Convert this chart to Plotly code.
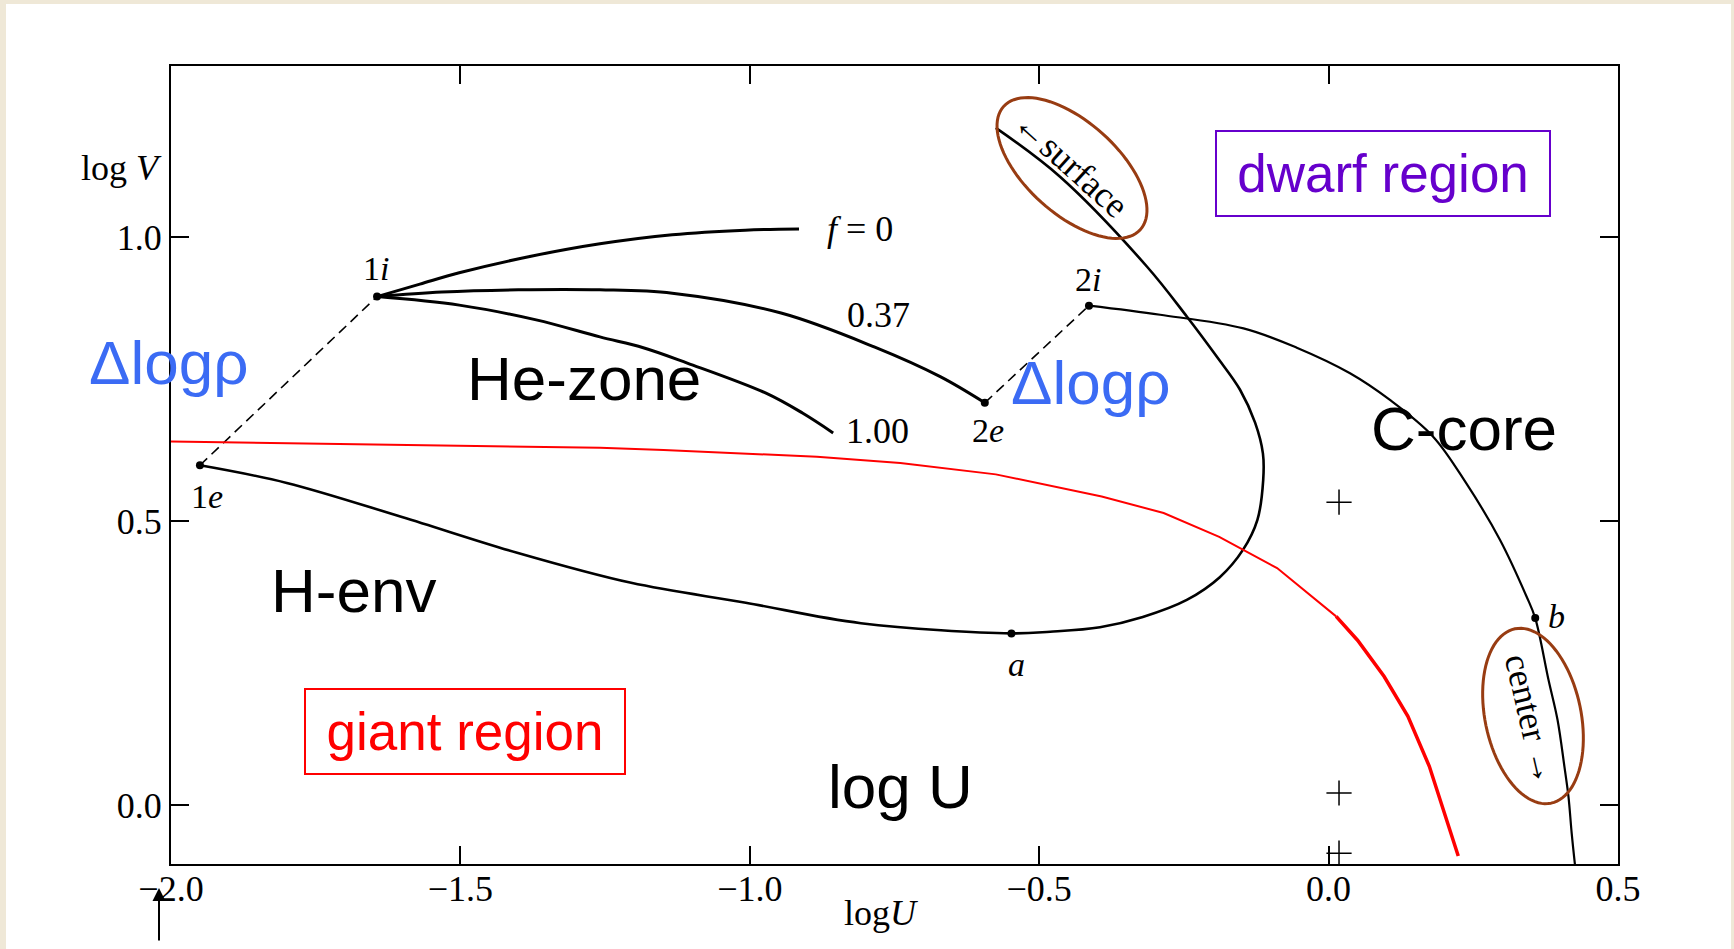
import math
import plotly.graph_objects as go

# ---- curves in the (log U, log V) plane ----
# f = 0 branch leaving the interface point 1i
f0_u = [-1.644, -1.570, -1.502, -1.378, -1.259, -1.134, -1.008, -0.915]
f0_v = [0.895, 0.917, 0.937, 0.966, 0.988, 1.004, 1.012, 1.014]

# f = 0.37 branch, 1i -> 2e
f37_u = [-1.644, -1.532, -1.400, -1.259, -1.134, -0.946, -0.784, -0.671, -0.594]
f37_v = [0.895, 0.903, 0.907, 0.907, 0.901, 0.866, 0.806, 0.754, 0.708]

# f = 1.00 branch
f100_u = [-1.644, -1.502, -1.369, -1.259, -1.184, -1.108, -0.972, -0.909, -0.856]
f100_v = [0.895, 0.880, 0.854, 0.824, 0.805, 0.778, 0.725, 0.690, 0.655]

# hydrogen envelope solution: 1e -> a -> loop -> surface
env_u = [-1.950, -1.800, -1.601, -1.402, -1.205, -1.007, -0.808, -0.548,
         -0.481, -0.395, -0.321, -0.245, -0.188, -0.148, -0.123, -0.113,
         -0.1135, -0.127, -0.153, -0.193, -0.245, -0.314, -0.464, -0.575]
env_v = [0.598, 0.567, 0.507, 0.444, 0.391, 0.356, 0.320, 0.302,
         0.305, 0.313, 0.331, 0.361, 0.401, 0.449, 0.502, 0.572,
         0.619, 0.673, 0.731, 0.789, 0.860, 0.948, 1.106, 1.192]

# carbon core solution: 2i -> b -> center
core_u = [-0.414, -0.291, -0.147, -0.055, 0.037, 0.106, 0.181, 0.238,
          0.296, 0.342, 0.357, 0.380, 0.3955, 0.4075, 0.4144, 0.420, 0.4257]
core_v = [0.879, 0.863, 0.839, 0.805, 0.760, 0.713, 0.648, 0.566,
          0.467, 0.367, 0.329, 0.220, 0.150, 0.067, 0.015, -0.050, -0.106]

# density jumps at the interfaces (dashed)
jump1_u = [-1.950, -1.644]
jump1_v = [0.598, 0.895]
jump2_u = [-0.594, -0.414]
jump2_v = [0.708, 0.879]

# giant / dwarf dividing line
red_hi_u = [-2.021, -1.259, -1.149, -0.884, -0.740, -0.575, -0.392, -0.285,
            -0.189, -0.089, 0.013]
red_hi_v = [0.640, 0.629, 0.625, 0.613, 0.602, 0.582, 0.543, 0.514,
            0.472, 0.417, 0.332]
red_lo_u = [0.013, 0.050, 0.096, 0.137, 0.174, 0.201, 0.224]
red_lo_v = [0.332, 0.290, 0.226, 0.156, 0.068, -0.015, -0.090]

# labelled points
pt_names = ["1i", "1e", "2e", "2i", "a", "b"]
pt_u = [-1.644, -1.950, -0.594, -0.414, -0.548, 0.357]
pt_v = [0.895, 0.598, 0.708, 0.879, 0.302, 0.329]

# small print crosses along log U = 0
cross_u = [0.018, 0.018, 0.018]
cross_v = [0.533, 0.021, -0.085]

x_ticks = [-2.0, -1.5, -1.0, -0.5, 0.0, 0.5]
y_ticks = [0.0, 0.5, 1.0]

# ---- page geometry ----
W, H = 1734, 949
PL, PR, PT, PB = 171, 1618, 66, 864


def paper(X, Y):
    return (X - PL) / (PR - PL), (PB - Y) / (PB - PT)


def ellipse_path(cx, cy, a, b, deg, n=96):
    t = math.radians(deg)
    parts = []
    for k in range(n + 1):
        th = 2 * math.pi * k / n
        x = cx + a * math.cos(th) * math.cos(t) - b * math.sin(th) * math.sin(t)
        y = cy + a * math.cos(th) * math.sin(t) + b * math.sin(th) * math.cos(t)
        xp, yp = paper(x, y)
        parts.append(("M" if k == 0 else "L") + f"{xp:.5f},{yp:.5f}")
    return " ".join(parts) + " Z"


SERIF = "Liberation Serif"
SANS = "Liberation Sans, Arial"
BROWN = "#983C12"
BLUE = "#3B6BF4"
PURPLE = "#6600CC"

fig = go.Figure()

thick = dict(color="black", width=3)
thin = dict(color="black", width=2.2)
for u, v, ln in [(f0_u, f0_v, thick), (f37_u, f37_v, thick), (f100_u, f100_v, thick),
                 (env_u, env_v, dict(color="black", width=2.6)), (core_u, core_v, thin)]:
    fig.add_trace(go.Scatter(x=u, y=v, mode="lines", line=dict(shape="spline", smoothing=1.0, **ln),
                             hoverinfo="skip", showlegend=False))

for u, v in [(jump1_u, jump1_v), (jump2_u, jump2_v)]:
    fig.add_trace(go.Scatter(x=u, y=v, mode="lines",
                             line=dict(color="black", width=1.6, dash="10px,6px"),
                             hoverinfo="skip", showlegend=False))

fig.add_trace(go.Scatter(x=red_hi_u, y=red_hi_v, mode="lines", line=dict(color="red", width=2),
                         hoverinfo="skip", showlegend=False))
fig.add_trace(go.Scatter(x=red_lo_u, y=red_lo_v, mode="lines", line=dict(color="red", width=3.5),
                         hoverinfo="skip", showlegend=False))

fig.add_trace(go.Scatter(x=pt_u, y=pt_v, mode="markers", marker=dict(color="black", size=8),
                         text=pt_names, hoverinfo="text", showlegend=False))
fig.add_trace(go.Scatter(x=cross_u, y=cross_v, mode="markers",
                         marker=dict(symbol="cross-thin", size=18, line=dict(color="black", width=1.5)),
                         hoverinfo="skip", showlegend=False))

# ---- text ----
ann = []


def label(X, Y, text, size, color="black", family=SERIF, angle=0, **kw):
    xp, yp = paper(X, Y)
    ann.append(dict(x=xp, y=yp, xref="paper", yref="paper", text=text, showarrow=False,
                    xanchor="center", yanchor="middle", textangle=angle,
                    font=dict(family=family, size=size, color=color), **kw))


# point and curve labels
label(376, 268, "1<i>i</i>", 34)
label(207, 496, "1<i>e</i>", 34)
label(988, 431, "2<i>e</i>", 34)
label(1088, 279, "2<i>i</i>", 34)
label(1016, 664, "<i>a</i>", 34)
label(1556, 616, "<i>b</i>", 34)
label(860, 229, "<i>f</i> = 0", 36)
label(878, 315, "0.37", 36)
label(877, 431, "1.00", 36)
label(1071, 164, "\u2190surface", 36, angle=42)
label(1531, 719, "center \u2192", 36, angle=77)

# axis titles
label(121, 168, "log <i>V</i>", 36)
label(881, 913, "log<i>U</i>", 36)

# region labels
label(168, 362, "\u0394log\u03c1", 62, color=BLUE, family=SANS)
label(1090, 383, "\u0394log\u03c1", 62, color=BLUE, family=SANS)
label(584, 379, "He-zone", 62, family=SANS)
label(1464, 428, "C-core", 62, family=SANS)
label(353, 590, "H-env", 62, family=SANS)
label(901, 786, "log U", 62, family=SANS)

gx, gy = paper(465, 731.5)
ann.append(dict(x=gx, y=gy, xref="paper", yref="paper", text="giant region", showarrow=False,
                xanchor="center", yanchor="middle", width=318, height=83, borderpad=0,
                bordercolor="red", borderwidth=2, align="center", valign="middle",
                font=dict(family=SANS, size=53, color="red")))
dx, dy = paper(1383, 173.5)
ann.append(dict(x=dx, y=dy, xref="paper", yref="paper", text="dwarf region", showarrow=False,
                xanchor="center", yanchor="middle", width=332, height=83, borderpad=0,
                bordercolor=PURPLE, borderwidth=2, align="center", valign="middle",
                font=dict(family=SANS, size=53, color=PURPLE)))

# arrow under the log U axis origin
ann.append(dict(x=-2.0, y=0, xref="x", yref="paper", text="", showarrow=True,
                arrowhead=2, arrowsize=1.3, arrowwidth=2, arrowcolor="black",
                ax=0, ay=54, xshift=-12, yshift=-24))

# ---- shapes: page background and highlight ellipses ----
x0, y0 = paper(6, 949 + 20)
x1, y1 = paper(1731, 4)
shapes = [
    dict(type="rect", xref="paper", yref="paper", x0=x0, y0=y0, x1=x1, y1=y1,
         fillcolor="white", line=dict(width=0), layer="below"),
    dict(type="path", xref="paper", yref="paper", path=ellipse_path(1072, 168, 92, 46, 42),
         line=dict(color=BROWN, width=3)),
    dict(type="path", xref="paper", yref="paper", path=ellipse_path(1533, 716, 89, 48, 78.3),
         line=dict(color=BROWN, width=3)),
]

axis_common = dict(showline=True, linecolor="black", linewidth=2, mirror="ticks",
                   ticks="inside", ticklen=18, tickwidth=1.6, tickcolor="black",
                   showgrid=False, zeroline=False, tickformat=".1f",
                   tickfont=dict(family=SERIF, size=36, color="black"))

fig.update_layout(
    width=W, height=H,
    margin=dict(l=PL, r=W - PR, t=PT, b=H - PB, autoexpand=False),
    paper_bgcolor="#EFE8D7",
    plot_bgcolor="white",
    xaxis=dict(range=[-2.0, 0.5], tickvals=x_ticks, ticklabelstandoff=-8, **axis_common),
    yaxis=dict(range=[-0.104, 1.301], tickvals=y_ticks, **axis_common),
    annotations=ann,
    shapes=shapes,
    showlegend=False,
)

fig.write_html("out.html")
